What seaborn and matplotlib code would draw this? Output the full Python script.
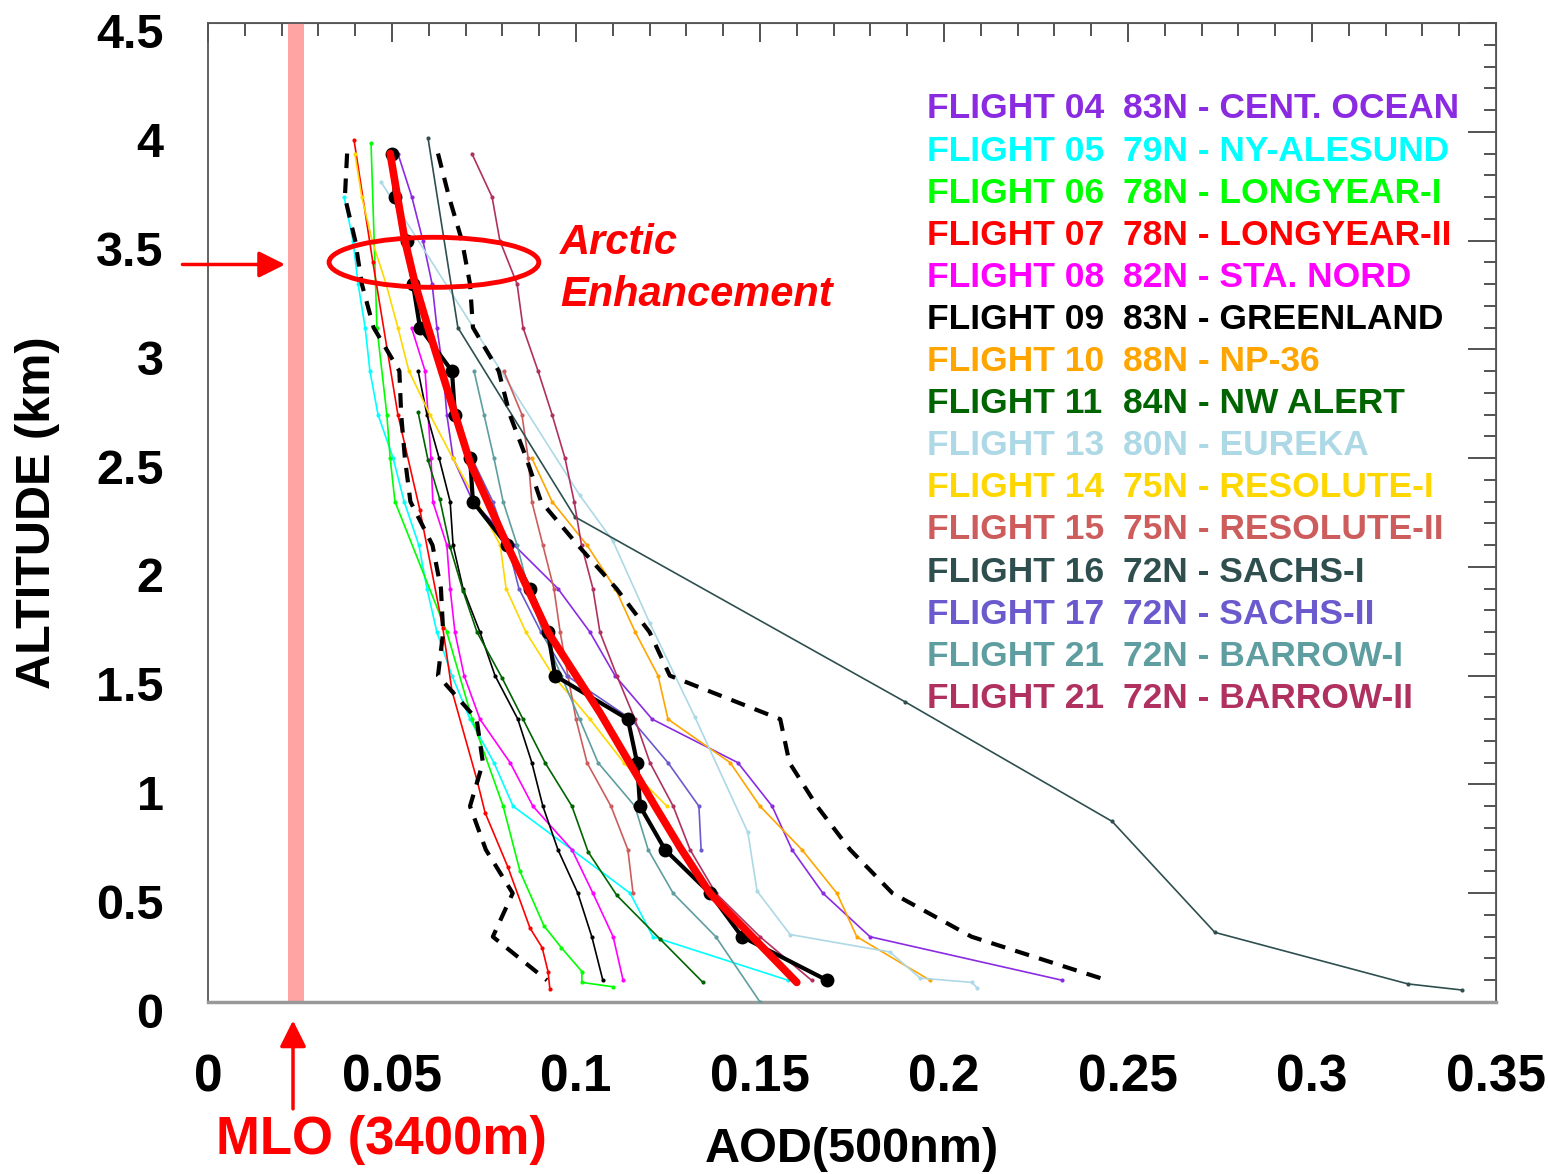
import matplotlib
matplotlib.use("Agg")
import matplotlib.pyplot as plt
import matplotlib.transforms as mtransforms
import seaborn as sns
from matplotlib.patches import Ellipse
from matplotlib.ticker import MultipleLocator, FuncFormatter, NullFormatter

# -------- data --------

f04_alt = [3.9, 3.7, 3.5, 3.3, 3.1, 2.9, 2.7, 2.5, 2.3, 2.1, 1.9, 1.7, 1.5, 1.3, 1.1, 0.9, 0.7, 0.5, 0.3, 0.1]
f04_aod = [0.0516, 0.0554, 0.0584, 0.0609, 0.0622, 0.0639, 0.0649, 0.0666, 0.0720, 0.0832,
           0.0951, 0.1038, 0.1106, 0.1207, 0.1440, 0.1533, 0.1587, 0.1671, 0.1799, 0.2321]

f05_alt = [3.7, 3.5, 3.3, 3.1, 2.9, 2.7, 2.5, 2.3, 2.1, 1.9, 1.7, 1.5, 1.3, 1.1, 0.9, 0.7, 0.5, 0.3, 0.1]
f05_aod = [0.0370, 0.0394, 0.0408, 0.0427, 0.0440, 0.0462, 0.0503, 0.0533, 0.0573, 0.0595,
           0.0622, 0.0663, 0.0712, 0.0777, 0.0829, 0.0989, 0.1147, 0.1209, 0.1576]

f06_alt = [3.95, 3.1, 2.7, 2.5, 2.3, 1.7, 1.3, 0.9, 0.6, 0.35, 0.25, 0.14, 0.09, 0.07]
f06_aod = [0.0443, 0.0459, 0.0486, 0.0495, 0.0508, 0.0649, 0.0718, 0.0802, 0.0848, 0.0913,
           0.0960, 0.1016, 0.1016, 0.1100]

f07_alt = [3.96, 3.4, 2.7, 2.26, 1.72, 1.43, 1.02, 0.87, 0.62, 0.34, 0.25, 0.14, 0.06]
f07_aod = [0.0397, 0.0448, 0.0516, 0.0576, 0.0638, 0.0663, 0.0731, 0.0753, 0.0815, 0.0875,
           0.0908, 0.0924, 0.0929]

f08_alt = [3.1, 2.9, 2.7, 2.5, 2.3, 2.1, 1.9, 1.7, 1.5, 1.3, 1.1, 0.9, 0.7, 0.5, 0.3, 0.1]
f08_aod = [0.0553, 0.0590, 0.0598, 0.0606, 0.0611, 0.0649, 0.0658, 0.0671, 0.0696, 0.0739,
           0.0821, 0.0883, 0.0989, 0.1046, 0.1101, 0.1128]

f09_alt = [2.9, 2.7, 2.5, 2.3, 2.1, 1.9, 1.7, 1.5, 1.3, 1.1, 0.9, 0.7, 0.5, 0.3, 0.1]
f09_aod = [0.0571, 0.0595, 0.0628, 0.0658, 0.0666, 0.0693, 0.0739, 0.0780, 0.0842, 0.0880,
           0.0910, 0.0951, 0.1005, 0.1043, 0.1073]

f10_alt = [2.5, 2.3, 2.1, 1.9, 1.7, 1.5, 1.3, 1.1, 0.9, 0.7, 0.5, 0.3, 0.1]
f10_aod = [0.0880, 0.0935, 0.1030, 0.1107, 0.1161, 0.1223, 0.1250, 0.1419, 0.1500, 0.1614,
           0.1709, 0.1763, 0.1962]

f11_alt = [2.71, 2.49, 2.31, 2.09, 1.89, 1.70, 1.49, 1.30, 1.10, 0.90, 0.69, 0.49, 0.29, 0.09]
f11_aod = [0.0571, 0.0598, 0.0630, 0.0658, 0.0693, 0.0731, 0.0799, 0.0856, 0.0916, 0.0989,
           0.1033, 0.1111, 0.1228, 0.1345]

f13_alt = [3.77, 2.33, 2.12, 1.74, 1.31, 0.78, 0.51, 0.31, 0.23, 0.11, 0.09, 0.065]
f13_aod = [0.0470, 0.1010, 0.1100, 0.1201, 0.1323, 0.1467, 0.1492, 0.1582, 0.1853, 0.1935,
           0.2076, 0.2090]

f14_alt = [3.9, 3.7, 3.5, 3.3, 3.1, 2.9, 2.7, 2.5, 2.3, 2.1, 1.9, 1.7, 1.5, 1.3, 1.1, 0.9]
f14_aod = [0.0399, 0.0418, 0.0446, 0.0484, 0.0516, 0.0546, 0.0603, 0.0665, 0.0731, 0.0794,
           0.0810, 0.0864, 0.0938, 0.1038, 0.1130, 0.1247]

f15_alt = [2.9, 2.7, 2.5, 2.3, 2.1, 1.9, 1.7, 1.5, 1.3, 1.1, 0.9, 0.7, 0.5]
f15_aod = [0.0804, 0.0853, 0.0870, 0.0880, 0.0910, 0.0940, 0.0957, 0.0978, 0.1000, 0.1030,
           0.1095, 0.1141, 0.1155]

f16_alt = [3.97, 3.10, 2.23, 1.38, 0.83, 0.32, 0.083, 0.055]
f16_aod = [0.0598, 0.0679, 0.0997, 0.1894, 0.2457, 0.2736, 0.3261, 0.3408]

f17_alt = [2.7, 2.5, 2.3, 2.1, 1.9, 1.7, 1.5, 1.3, 1.1, 0.9, 0.7]
f17_aod = [0.0666, 0.0717, 0.0774, 0.0815, 0.0845, 0.0905, 0.0975, 0.1150, 0.1250, 0.1334, 0.1340]

f21a_alt = [2.9, 2.7, 2.5, 2.3, 2.1, 1.9, 1.7, 1.5, 1.3, 1.1, 0.9, 0.7, 0.5, 0.3, 0.0]
f21a_aod = [0.0723, 0.0750, 0.0777, 0.0802, 0.0840, 0.0870, 0.0910, 0.0960, 0.1010, 0.1060,
            0.1160, 0.1196, 0.1264, 0.1380, 0.1500]

f21b_alt = [3.9, 3.7, 3.5, 3.3, 3.1, 2.9, 2.7, 2.5, 2.3, 2.1, 1.9, 1.7, 1.5, 1.3, 1.1, 0.9, 0.7, 0.5, 0.3, 0.1]
f21b_aod = [0.0717, 0.0772, 0.0793, 0.0840, 0.0856, 0.0897, 0.0935, 0.0970, 0.0995, 0.1015,
            0.1046, 0.1065, 0.1111, 0.1160, 0.1201, 0.1264, 0.1310, 0.1380, 0.1500, 0.1640]

# mean profile and +/- envelope (0.2 km grid)
mean_alt = [3.9, 3.7, 3.5, 3.3, 3.1, 2.9, 2.7, 2.5, 2.3, 2.1, 1.9, 1.7, 1.5, 1.3, 1.1, 0.9, 0.7, 0.5, 0.3, 0.1]
mean_aod = [0.0500, 0.0508, 0.0541, 0.0557, 0.0576, 0.0663, 0.0671, 0.0712, 0.0720, 0.0813,
            0.0875, 0.0924, 0.0943, 0.1141, 0.1166, 0.1174, 0.1242, 0.1364, 0.1451, 0.1682]
low_aod = [0.0378, 0.0372, 0.0400, 0.0418, 0.0450, 0.0520, 0.0525, 0.0535, 0.0550, 0.0610,
           0.0633, 0.0639, 0.0625, 0.0730, 0.0747, 0.0712, 0.0755, 0.0828, 0.0774, 0.0921]
high_aod = [0.0625, 0.0655, 0.0690, 0.0712, 0.0720, 0.0790, 0.0820, 0.0865, 0.0905, 0.1005,
            0.1110, 0.1200, 0.1255, 0.1555, 0.1580, 0.1655, 0.1745, 0.1860, 0.2075, 0.2443]

# fitted profile (thick red)
fit_alt = [3.9, 3.5, 3.3, 3.1, 2.48, 2.1, 1.7, 1.33, 0.9, 0.71, 0.5, 0.09]
fit_aod = [0.0495, 0.0535, 0.0563, 0.0598, 0.0712, 0.0813, 0.0924, 0.1065, 0.1215, 0.1283,
           0.1364, 0.1600]

# MLO reference (3400 m)
mlo_aod_low = 0.0217
mlo_aod_high = 0.0261
mlo_alt = 3.39

flight_names = ["FLIGHT 04", "FLIGHT 05", "FLIGHT 06", "FLIGHT 07", "FLIGHT 08",
                "FLIGHT 09", "FLIGHT 10", "FLIGHT 11", "FLIGHT 13", "FLIGHT 14",
                "FLIGHT 15", "FLIGHT 16", "FLIGHT 17", "FLIGHT 21", "FLIGHT 21"]
flight_sites = ["83N - CENT. OCEAN", "79N - NY-ALESUND", "78N - LONGYEAR-I", "78N - LONGYEAR-II",
                "82N - STA. NORD", "83N - GREENLAND", "88N - NP-36", "84N - NW ALERT",
                "80N - EUREKA", "75N - RESOLUTE-I", "75N - RESOLUTE-II", "72N - SACHS-I",
                "72N - SACHS-II", "72N - BARROW-I", "72N - BARROW-II"]
flight_colors = ["#8A2BE2", "#00FFFF", "#00FF00", "#FF0000", "#FF00FF", "#000000", "#FFA500",
                 "#006400", "#ADD8E6", "#FFD700", "#CD5C5C", "#2F4F4F", "#6A5ACD", "#5F9EA0",
                 "#B03060"]

profiles = [(f04_aod, f04_alt), (f05_aod, f05_alt), (f06_aod, f06_alt), (f07_aod, f07_alt),
            (f08_aod, f08_alt), (f09_aod, f09_alt), (f10_aod, f10_alt), (f11_aod, f11_alt),
            (f13_aod, f13_alt), (f14_aod, f14_alt), (f15_aod, f15_alt), (f16_aod, f16_alt),
            (f17_aod, f17_alt), (f21a_aod, f21a_alt), (f21b_aod, f21b_alt)]

# -------- figure --------

sns.set_style("white")
plt.rcParams['font.family'] = ['Liberation Sans', 'DejaVu Sans']

fig = plt.figure(figsize=(15.48, 11.74), dpi=100)
ax = fig.add_axes([208 / 1548, 172 / 1174, 1288 / 1548, 979 / 1174])

# MLO band
ax.axvspan(mlo_aod_low, mlo_aod_high, color="#FFA3A3", lw=0, zorder=1)

# individual flights
for (aod, alt), c in zip(profiles, flight_colors):
    sns.lineplot(x=aod, y=alt, sort=False, estimator=None, color=c, lw=1.2,
                 marker="o", markersize=3, markeredgewidth=0, ax=ax, zorder=3)

# envelope
for env in (low_aod, high_aod):
    sns.lineplot(x=env, y=mean_alt, sort=False, estimator=None, color="black",
                 lw=3, ax=ax, zorder=4, linestyle=(0, (3.5, 2.5)))

# mean
sns.lineplot(x=mean_aod, y=mean_alt, sort=False, estimator=None, color="black", lw=3,
             marker="o", markersize=10, markeredgewidth=0, ax=ax, zorder=5)

# fit
sns.lineplot(x=fit_aod, y=fit_alt, sort=False, estimator=None, color="#FF0000", lw=5.5,
             ax=ax, zorder=6)

# axes
ax.set_xlim(0, 0.35)
ax.set_ylim(0, 4.5)
ax.xaxis.set_major_locator(MultipleLocator(0.05))
ax.xaxis.set_minor_locator(MultipleLocator(0.01))
ax.yaxis.set_major_locator(MultipleLocator(0.5))
ax.yaxis.set_minor_locator(MultipleLocator(0.1))
fmt = FuncFormatter(lambda v, p: f"{v:g}")
ax.xaxis.set_major_formatter(fmt)
ax.yaxis.set_major_formatter(fmt)

ax.tick_params(which="both", direction="out", top=False, right=False,
               colors="#444444", width=1.3, labelcolor="black")
ax.tick_params(which="major", length=20)
ax.tick_params(which="minor", length=10)
ax.tick_params(axis="x", which="major", labelsize=37, pad=17)
ax.tick_params(axis="y", which="major", labelsize=35, pad=12)
for lab in ax.get_xticklabels() + ax.get_yticklabels():
    lab.set_fontweight("bold")
shift_down = mtransforms.ScaledTranslation(0, -8 / 100, fig.dpi_scale_trans)
for lab in ax.get_yticklabels():
    lab.set_transform(lab.get_transform() + shift_down)

for s in ax.spines.values():
    s.set_color("#555555")
    s.set_linewidth(1.3)
ax.spines["bottom"].set_color("#999999")
ax.spines["bottom"].set_linewidth(2.5)

top = ax.secondary_xaxis("top")
top.xaxis.set_major_locator(MultipleLocator(0.05))
top.xaxis.set_minor_locator(MultipleLocator(0.01))
top.xaxis.set_major_formatter(NullFormatter())
top.tick_params(which="both", direction="in", colors="#444444", width=1.3)
top.tick_params(which="major", length=14)
top.tick_params(which="minor", length=9)
top.spines["top"].set_color("#555555")

right = ax.secondary_yaxis("right")
right.yaxis.set_major_locator(MultipleLocator(0.5))
right.yaxis.set_minor_locator(MultipleLocator(0.1))
right.yaxis.set_major_formatter(NullFormatter())
right.tick_params(which="both", direction="in", colors="#444444", width=1.3)
right.tick_params(which="major", length=20)
right.tick_params(which="minor", length=9)
right.spines["right"].set_color("#555555")

ax.set_xlabel("AOD(500nm)", fontsize=35, fontweight="bold", va="center", color="black")
ax.set_ylabel("ALTITUDE (km)", fontsize=35, fontweight="bold", va="center", color="black")
ax.xaxis.set_label_coords(0.5, -0.151)
ax.yaxis.set_label_coords(-0.132, 0.5)

# legend written as coloured text
for i, (name, site, c) in enumerate(zip(flight_names, flight_sites, flight_colors)):
    yy = 4.105 - i * 0.1935
    ax.text(0.1954, yy, name, color=c, fontsize=25.5, fontweight="bold", va="center")
    ax.text(0.2486, yy, site, color=c, fontsize=25.5, fontweight="bold", va="center")

# annotations
ax.add_patch(Ellipse((0.0614, 3.40), 0.057, 0.23, fill=False, edgecolor="#FF0000", lw=3.5, zorder=7))
ax.text(0.0957, 3.49, "Arctic", color="#FF0000", fontsize=30, fontweight="bold",
        fontstyle="italic", va="center")
ax.text(0.0957, 3.25, "Enhancement", color="#FF0000", fontsize=30, fontweight="bold",
        fontstyle="italic", va="center")

ax.annotate("", xy=(mlo_aod_low, mlo_alt), xycoords="data",
            xytext=(-0.022, mlo_alt), textcoords=("axes fraction", "data"),
            arrowprops=dict(arrowstyle="-|>", color="#FF0000", lw=2.5, mutation_scale=40),
            annotation_clip=False)
ax.annotate("", xy=(0.0231, -0.016), xycoords=("data", "axes fraction"),
            xytext=(0.0231, -0.112), textcoords=("data", "axes fraction"),
            arrowprops=dict(arrowstyle="-|>", color="#FF0000", lw=2.5, mutation_scale=40),
            annotation_clip=False)
ax.text(0.047, -0.141, "MLO (3400m)", color="#FF0000", fontsize=38, fontweight="bold",
        ha="center", va="center", transform=ax.get_xaxis_transform())

fig.savefig("out.png", dpi=100)
